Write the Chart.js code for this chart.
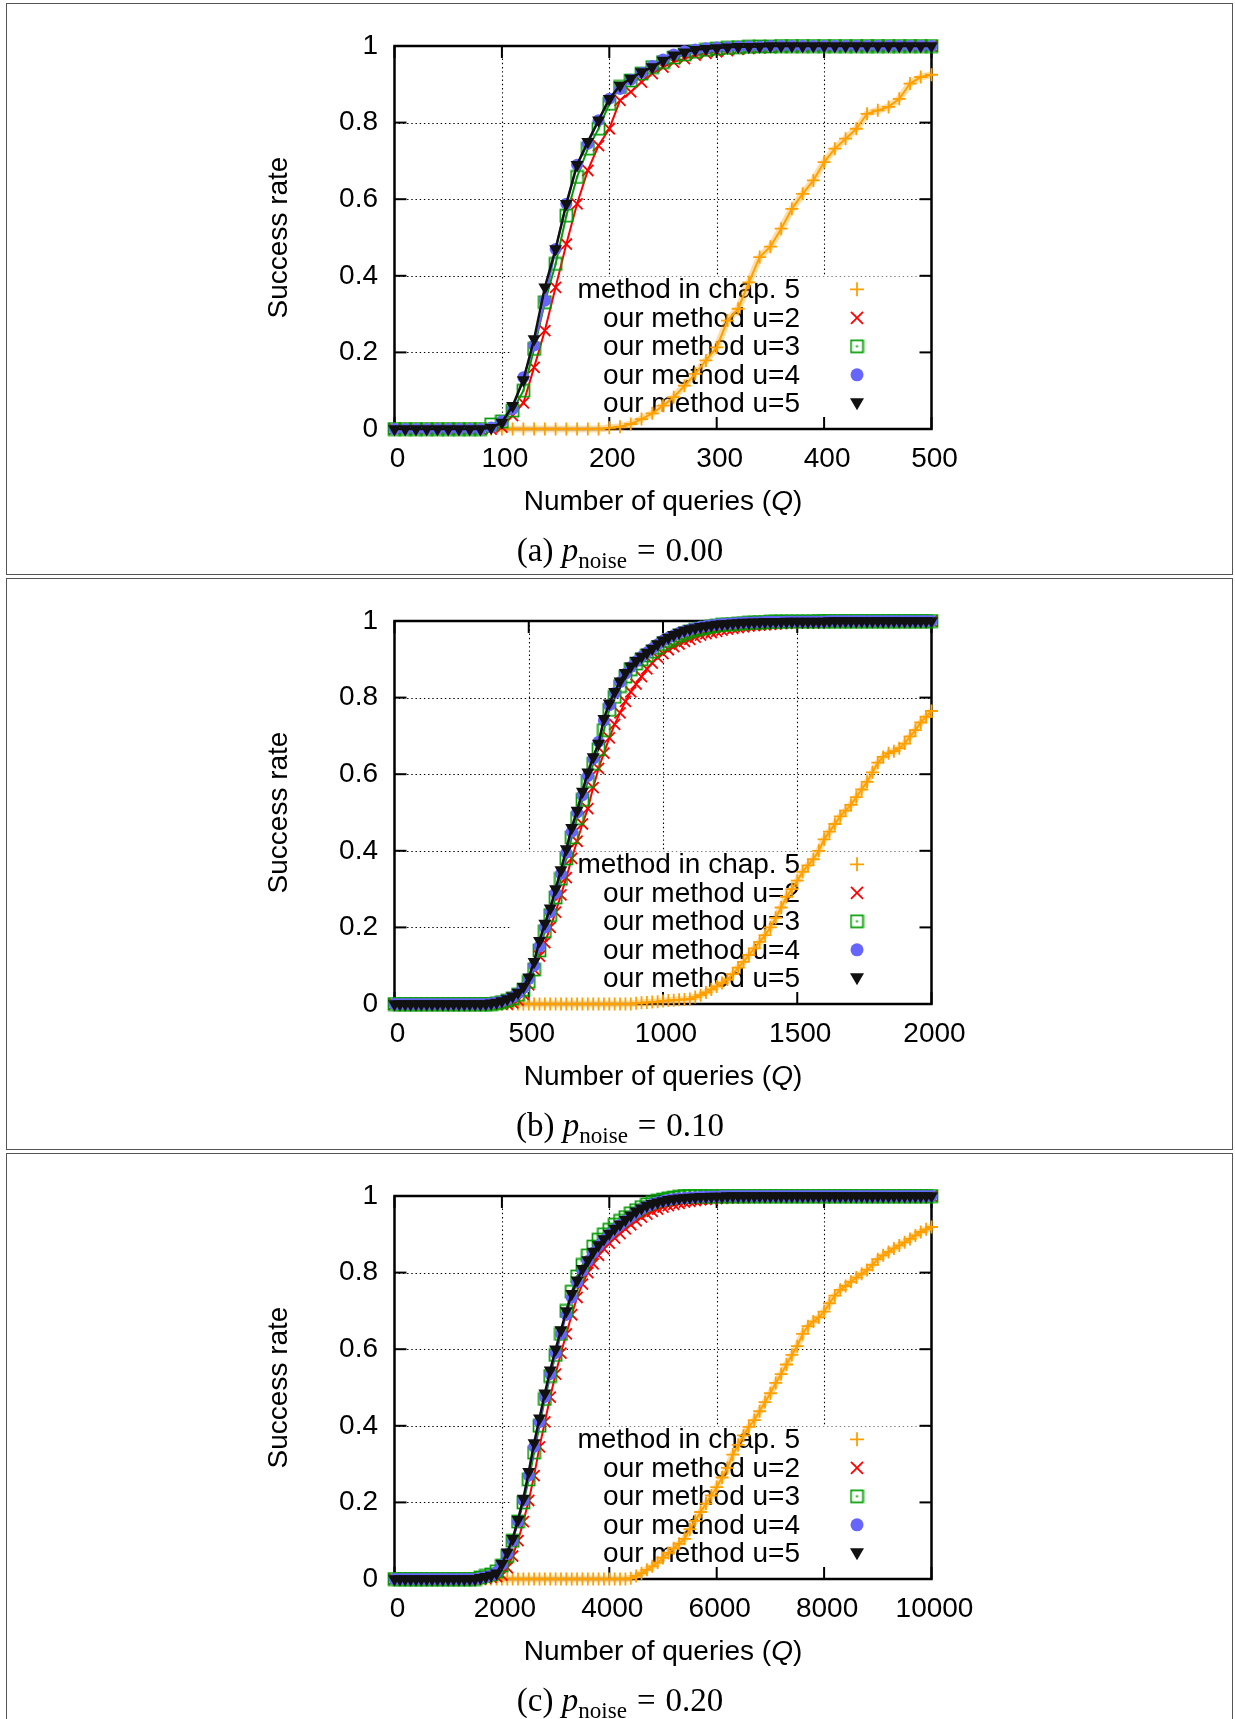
<!DOCTYPE html>
<html>
<head>
<meta charset="utf-8">
<script src="https://cdn.jsdelivr.net/npm/chart.js@4.4.1/dist/chart.umd.min.js"></script>
<style>
  body { margin: 0; background: #fff; width: 1235px; height: 1719px; overflow: hidden; position: relative; font-family: "Liberation Sans", Arial, sans-serif; }
  .panel { position: absolute; left: 0; width: 1235px; height: 575px; }
  .panel canvas { position: absolute; left: 0; top: 0; }
  .box { position: absolute; left: 6px; top: 3px; width: 1227px; height: 572px; border: 1.5px solid #555; box-sizing: border-box; }
  .xtitle { position: absolute; left: 394px; width: 538px; top: 485px; line-height: 32px; text-align: center; font-size: 28px; color: #000; }
  .cap { position: absolute; left: 0; width: 1240px; top: 530px; line-height: 40px; text-align: center; font-family: "Liberation Serif", "Times New Roman", serif; font-size: 33px; color: #000; }
  .cap sub { font-size: 70%; vertical-align: -0.32em; line-height: 0; }
  .cap .eq { margin: 0 0.3em; }
</style>
</head>
<body>
<div class="panel" style="top:0px">
  <div class="box"></div>
  <canvas id="chartA" width="1235" height="575"></canvas>
  <div class="xtitle">Number of queries (<i>Q</i>)</div>
  <div class="cap">(a) <i>p</i><sub>noise</sub><span class="eq">=</span>0.00</div>
</div>
<div class="panel" style="top:575.3px">
  <div class="box"></div>
  <canvas id="chartB" width="1235" height="575"></canvas>
  <div class="xtitle">Number of queries (<i>Q</i>)</div>
  <div class="cap">(b) <i>p</i><sub>noise</sub><span class="eq">=</span>0.10</div>
</div>
<div class="panel" style="top:1149.5px">
  <div class="box" style="height:600px"></div>
  <canvas id="chartC" width="1235" height="575"></canvas>
  <div class="xtitle">Number of queries (<i>Q</i>)</div>
  <div class="cap">(c) <i>p</i><sub>noise</sub><span class="eq">=</span>0.20</div>
</div>
<script>
// ---- data ----
const seriesNames = ['method in chap. 5', 'our method u=2', 'our method u=3', 'our method u=4', 'our method u=5'];
const yTicks = [0, 0.2, 0.4, 0.6, 0.8, 1];
const yTickLabels = ['0', '0.2', '0.4', '0.6', '0.8', '1'];
const xTicksA = [0, 100, 200, 300, 400, 500];
const xTicksB = [0, 500, 1000, 1500, 2000];
const xTicksC = [0, 2000, 4000, 6000, 8000, 10000];

// (a) p_noise = 0.00
const queriesA = [0,10,20,30,40,50,60,70,80,90,100,110,120,130,140,150,160,170,180,190,
  200,210,220,230,240,250,260,270,280,290,300,310,320,330,340,350,360,370,380,390,
  400,410,420,430,440,450,460,470,480,490,500];
const chap5A = [0,0,0,0,0,0,0,0,0,0,0,0,0,0,0,0,0,0,0,0,
  0.003,0.006,0.013,0.026,0.041,0.061,0.083,0.113,0.144,0.179,
  0.213,0.283,0.314,0.383,0.449,0.476,0.523,0.575,0.614,0.649,
  0.697,0.732,0.758,0.784,0.823,0.832,0.841,0.862,0.902,0.919,0.925];
const u2A = [0,0,0,0,0,0,0,0,0,0,
  0.005,0.035,0.068,0.161,0.257,0.37,0.483,0.588,0.675,0.74,
  0.784,0.858,0.88,0.906,0.928,0.945,0.958,0.967,0.976,0.981,
  0.985,0.988,0.991,0.993,0.995,0.996,0.997,0.998,0.998,0.999,
  0.999,0.999,1,1,1,1,1,1,1,1,1];
const u3A = [0,0,0,0,0,0,0,0,0,0.012,
  0.02,0.048,0.1,0.209,0.331,0.431,0.557,0.658,0.732,0.784,
  0.849,0.893,0.91,0.928,0.945,0.958,0.97,0.978,0.985,0.99,
  0.993,0.995,0.997,0.998,0.999,0.999,1,1,1,1,
  1,1,1,1,1,1,1,1,1,1,1];
const u4A = [0,0,0,0,0,0,0,0,0,0.004,
  0.02,0.052,0.135,0.218,0.335,0.47,0.588,0.69,0.745,0.806,
  0.862,0.888,0.912,0.93,0.948,0.965,0.978,0.986,0.991,0.994,
  0.996,0.997,0.998,0.999,0.999,1,1,1,1,1,
  1,1,1,1,1,1,1,1,1,1,1];
const u5A = [0,0,0,0,0,0,0,0,0,0.003,
  0.017,0.061,0.128,0.235,0.37,0.47,0.588,0.69,0.75,0.806,
  0.862,0.897,0.915,0.932,0.945,0.962,0.976,0.984,0.99,0.993,
  0.995,0.997,0.998,0.998,0.999,1,1,1,1,1,
  1,1,1,1,1,1,1,1,1,1,1];

// (b) p_noise = 0.10
const queriesB = [0,20,40,60,80,100,120,140,160,180,
  200,220,240,260,280,300,320,340,360,380,
  400,420,440,460,480,500,520,540,560,580,
  600,620,640,660,680,700,720,740,760,780,
  800,820,840,860,880,900,920,940,960,980,
  1000,1020,1040,1060,1080,1100,1120,1140,1160,1180,
  1200,1220,1240,1260,1280,1300,1320,1340,1360,1380,
  1400,1420,1440,1460,1480,1500,1520,1540,1560,1580,
  1600,1620,1640,1660,1680,1700,1720,1740,1760,1780,
  1800,1820,1840,1860,1880,1900,1920,1940,1960,1980,
  2000];
const chap5B = [0,0,0,0,0,0,0,0,0,0,
  0,0,0,0,0,0,0,0,0,0,
  0,0,0,0,0,0,0,0,0,0,
  0,0,0,0,0,0,0,0,0,0,
  0,0,0,0,0,0.002,0.003,0.004,0.005,0.006,
  0.008,0.009,0.01,0.011,0.012,0.013,0.018,0.023,0.03,0.038,
  0.046,0.055,0.064,0.078,0.095,0.11,0.128,0.145,0.162,0.18,
  0.2,0.225,0.252,0.28,0.3,0.322,0.345,0.362,0.378,0.4,
  0.43,0.45,0.47,0.49,0.505,0.52,0.54,0.56,0.58,0.605,
  0.63,0.645,0.655,0.66,0.668,0.68,0.699,0.715,0.735,0.75,
  0.765];
const u2B = [0,0,0,0,0,0,0,0,0,0,
  0,0,0,0,0,0,0,0,0,0,
  0,0,0.003,0.01,0.025,0.05,0.09,0.125,0.16,0.2,
  0.24,0.285,0.33,0.38,0.425,0.47,0.51,0.565,0.615,0.655,
  0.695,0.73,0.76,0.79,0.815,0.835,0.855,0.875,0.89,0.905,
  0.915,0.925,0.933,0.94,0.947,0.952,0.958,0.963,0.967,0.97,
  0.973,0.976,0.979,0.981,0.983,0.985,0.987,0.988,0.989,0.99,
  0.991,0.992,0.993,0.994,0.994,0.995,0.995,0.996,0.996,0.996,
  0.997,0.997,0.997,0.998,0.998,0.998,0.998,0.999,0.999,0.999,
  0.999,0.999,0.999,1,1,1,1,1,1,1,
  1];
const u3B = [0,0,0,0,0,0,0,0,0,0,
  0,0,0,0,0,0,0,0,0,0.002,
  0.005,0.009,0.015,0.024,0.037,0.058,0.09,0.14,0.19,0.232,
  0.278,0.327,0.38,0.435,0.485,0.533,0.582,0.627,0.665,0.715,
  0.768,0.802,0.83,0.855,0.874,0.889,0.9,0.91,0.92,0.93,
  0.94,0.948,0.955,0.962,0.968,0.973,0.977,0.98,0.983,0.986,
  0.988,0.99,0.991,0.992,0.993,0.994,0.995,0.996,0.997,0.997,
  0.998,0.998,0.998,0.999,0.999,0.999,0.999,0.999,0.999,1,
  1,1,1,1,1,1,1,1,1,1,
  1,1,1,1,1,1,1,1,1,1,
  1];
const u4B = [0,0,0,0,0,0,0,0,0,0,
  0,0,0,0,0,0,0,0,0.002,0.004,
  0.007,0.012,0.018,0.028,0.042,0.065,0.1,0.15,0.2,0.24,
  0.29,0.34,0.395,0.45,0.5,0.545,0.595,0.64,0.685,0.74,
  0.78,0.812,0.84,0.862,0.88,0.895,0.907,0.918,0.928,0.939,
  0.949,0.956,0.963,0.969,0.974,0.978,0.982,0.985,0.987,0.989,
  0.991,0.992,0.993,0.994,0.995,0.996,0.996,0.997,0.997,0.998,
  0.998,0.998,0.998,0.999,0.999,0.999,0.999,0.999,0.999,0.999,
  0.999,1,1,1,1,1,1,1,1,1,
  1,1,1,1,1,1,1,1,1,1,
  1];
const u5B = [0,0,0,0,0,0,0,0,0,0,
  0,0,0,0,0,0,0,0,0.002,0.004,
  0.008,0.013,0.02,0.03,0.045,0.07,0.11,0.165,0.21,0.25,
  0.3,0.35,0.405,0.46,0.505,0.555,0.605,0.645,0.68,0.745,
  0.785,0.815,0.843,0.865,0.882,0.896,0.907,0.918,0.928,0.94,
  0.95,0.957,0.964,0.97,0.975,0.979,0.982,0.985,0.987,0.989,
  0.991,0.992,0.993,0.994,0.995,0.996,0.996,0.997,0.997,0.998,
  0.998,0.998,0.998,0.999,0.999,0.999,0.999,0.999,0.999,0.999,
  0.999,1,1,1,1,1,1,1,1,1,
  1,1,1,1,1,1,1,1,1,1,
  1];

// (c) p_noise = 0.20
const queriesC = [0,100,200,300,400,500,600,700,800,900,
  1000,1100,1200,1300,1400,1500,1600,1700,1800,1900,
  2000,2100,2200,2300,2400,2500,2600,2700,2800,2900,
  3000,3100,3200,3300,3400,3500,3600,3700,3800,3900,
  4000,4100,4200,4300,4400,4500,4600,4700,4800,4900,
  5000,5100,5200,5300,5400,5500,5600,5700,5800,5900,
  6000,6100,6200,6300,6400,6500,6600,6700,6800,6900,
  7000,7100,7200,7300,7400,7500,7600,7700,7800,7900,
  8000,8100,8200,8300,8400,8500,8600,8700,8800,8900,
  9000,9100,9200,9300,9400,9500,9600,9700,9800,9900,
  10000];
const chap5C = [0,0,0,0,0,0,0,0,0,0,
  0,0,0,0,0,0,0,0,0,0,
  0,0,0,0,0,0,0,0,0,0,
  0,0,0,0,0,0,0,0,0,0,
  0,0,0,0,0.002,0.008,0.015,0.024,0.033,0.043,
  0.055,0.068,0.08,0.092,0.105,0.13,0.152,0.175,0.197,0.218,
  0.24,0.265,0.29,0.325,0.35,0.375,0.397,0.415,0.438,0.462,
  0.485,0.512,0.535,0.56,0.585,0.608,0.64,0.66,0.672,0.683,
  0.698,0.72,0.74,0.755,0.765,0.776,0.787,0.797,0.807,0.82,
  0.835,0.845,0.854,0.863,0.871,0.879,0.888,0.897,0.906,0.913,
  0.919];
const u2C = [0,0,0,0,0,0,0,0,0,0,
  0,0,0,0,0,0,0,0.002,0.004,0.006,
  0.01,0.03,0.06,0.1,0.15,0.205,0.27,0.345,0.41,0.475,
  0.535,0.59,0.64,0.69,0.735,0.77,0.8,0.823,0.845,0.862,
  0.877,0.89,0.902,0.914,0.925,0.935,0.945,0.953,0.96,0.966,
  0.971,0.975,0.978,0.981,0.984,0.986,0.988,0.99,0.991,0.992,
  0.993,0.994,0.995,0.995,0.996,0.996,0.997,0.997,0.997,0.998,
  0.998,0.998,0.998,0.999,0.999,0.999,0.999,0.999,0.999,0.999,
  1,1,1,1,1,1,1,1,1,1,
  1,1,1,1,1,1,1,1,1,1,
  1];
const u3C = [0,0,0,0,0,0,0,0,0,0,
  0,0,0,0,0,0,0.004,0.008,0.012,0.02,
  0.035,0.06,0.1,0.15,0.2,0.26,0.33,0.4,0.47,0.53,
  0.585,0.64,0.7,0.75,0.79,0.82,0.845,0.868,0.886,0.9,
  0.912,0.925,0.935,0.945,0.955,0.963,0.971,0.978,0.984,0.988,
  0.991,0.994,0.996,0.998,1,1,1,1,1,1,
  1,1,1,1,1,1,1,1,1,1,
  1,1,1,1,1,1,1,1,1,1,
  1,1,1,1,1,1,1,1,1,1,
  1,1,1,1,1,1,1,1,1,1,
  1];
const u4C = [0,0,0,0,0,0,0,0,0,0,
  0,0,0,0,0,0,0.003,0.006,0.01,0.018,
  0.038,0.065,0.1,0.15,0.205,0.27,0.345,0.41,0.475,0.535,
  0.59,0.64,0.69,0.735,0.775,0.805,0.83,0.852,0.87,0.886,
  0.9,0.913,0.924,0.936,0.946,0.957,0.966,0.973,0.979,0.984,
  0.987,0.99,0.992,0.994,0.995,0.996,0.997,0.998,0.998,0.999,
  0.999,1,1,1,1,1,1,1,1,1,
  1,1,1,1,1,1,1,1,1,1,
  1,1,1,1,1,1,1,1,1,1,
  1,1,1,1,1,1,1,1,1,1,
  1];
const u5C = [0,0,0,0,0,0,0,0,0,0,
  0,0,0,0,0,0,0.003,0.006,0.01,0.015,
  0.04,0.07,0.105,0.155,0.21,0.28,0.355,0.42,0.485,0.545,
  0.6,0.65,0.7,0.745,0.78,0.81,0.833,0.855,0.872,0.888,
  0.902,0.915,0.926,0.938,0.95,0.96,0.968,0.975,0.98,0.984,
  0.987,0.99,0.992,0.994,0.995,0.996,0.997,0.998,0.998,0.999,
  0.999,0.999,1,1,1,1,1,1,1,1,
  1,1,1,1,1,1,1,1,1,1,
  1,1,1,1,1,1,1,1,1,1,
  1,1,1,1,1,1,1,1,1,1,
  1];

// ---- styling ----
const ORANGE = '#ffa000', RED = '#ff0000', GREEN = '#009c00', BLUE = '#6666ff', BLACK = '#111111';
const FONT = '"Liberation Sans", Arial, sans-serif';

Chart.defaults.font.family = FONT;
Chart.defaults.font.size = 28;
Chart.defaults.color = '#000';
Chart.defaults.animation = false;

// open square with a dot in the middle (gnuplot style)
function squareDot(color) {
  const c = document.createElement('canvas');
  c.width = 15; c.height = 15;
  const g = c.getContext('2d');
  g.strokeStyle = color;
  g.lineWidth = 1.7;
  g.strokeRect(1.5, 1.5, 12, 12);
  g.fillStyle = color;
  g.fillRect(6.5, 6.5, 2, 2);
  return c;
}
const greenSquare = squareDot(GREEN);

function keySymbol(ctx, k, cx, cy) {
  ctx.save();
  ctx.lineWidth = 1.8;
  if (k === 0) {
    ctx.strokeStyle = ORANGE;
    ctx.beginPath(); ctx.moveTo(cx - 7, cy); ctx.lineTo(cx + 7, cy); ctx.moveTo(cx, cy - 7); ctx.lineTo(cx, cy + 7); ctx.stroke();
  } else if (k === 1) {
    ctx.strokeStyle = RED;
    ctx.beginPath(); ctx.moveTo(cx - 6, cy - 6); ctx.lineTo(cx + 6, cy + 6); ctx.moveTo(cx + 6, cy - 6); ctx.lineTo(cx - 6, cy + 6); ctx.stroke();
  } else if (k === 2) {
    ctx.drawImage(greenSquare, cx - 7.5, cy - 7.5);
  } else if (k === 3) {
    ctx.fillStyle = BLUE;
    ctx.beginPath(); ctx.arc(cx, cy, 6.5, 0, Math.PI * 2); ctx.fill();
  } else {
    ctx.fillStyle = BLACK;
    ctx.beginPath(); ctx.moveTo(cx - 7, cy - 5); ctx.lineTo(cx + 7, cy - 5); ctx.lineTo(cx, cy + 7); ctx.closePath(); ctx.fill();
  }
  ctx.restore();
}

// grid, key, tick marks and border, drawn under the curves
function decorPlugin(xTicks) {
  return {
    id: 'decor',
    beforeDatasetsDraw(chart) {
      const { ctx, chartArea: a, scales: { x, y } } = chart;
      const seg = (x1, y1, x2, y2) => { ctx.beginPath(); ctx.moveTo(x1, y1); ctx.lineTo(x2, y2); ctx.stroke(); };
      ctx.save();
      ctx.strokeStyle = '#000';
      ctx.lineWidth = 1.1;
      ctx.setLineDash([1.4, 2.8]);
      xTicks.slice(1, -1).forEach(v => { const px = Math.round(x.getPixelForValue(v)) + 0.5; seg(px, a.top, px, a.bottom); });
      yTicks.slice(1, -1).forEach(v => { const py = Math.round(y.getPixelForValue(v)) + 0.5; seg(a.left, py, a.right, py); });
      ctx.setLineDash([]);

      // opaque key box
      const kx = a.left + 117.5, ky = a.top + 230.5;
      ctx.fillStyle = '#fff';
      ctx.fillRect(kx, ky, a.right - kx, a.bottom - ky);
      ctx.fillStyle = '#000';
      ctx.font = '28px ' + FONT;
      ctx.textAlign = 'right';
      ctx.textBaseline = 'middle';
      seriesNames.forEach((name, i) => {
        const ry = a.top + 243.3 + i * 28.5;
        ctx.fillText(name, a.left + 405.5, ry + 1);
        keySymbol(ctx, i, a.left + 462.5, ry);
      });

      // tick marks on all four sides
      ctx.strokeStyle = '#000';
      ctx.lineWidth = 2;
      xTicks.forEach(v => { const px = x.getPixelForValue(v); seg(px, a.bottom, px, a.bottom - 12); seg(px, a.top, px, a.top + 12); });
      yTicks.forEach(v => { const py = y.getPixelForValue(v); seg(a.left, py, a.left + 12, py); seg(a.right, py, a.right - 12, py); });
      ctx.lineWidth = 2.5;
      ctx.strokeRect(a.left, a.top, a.right - a.left, a.bottom - a.top);
      ctx.restore();
    }
  };
}

function makeChart(canvasId, queries, xMax, xTicks, chap5, u2, u3, u4, u5) {
  const pts = vals => queries.map((q, i) => ({ x: q, y: vals[i] }));
  const base = { showLine: true, tension: 0, fill: false, clip: false, pointHoverRadius: 0 };
  new Chart(document.getElementById(canvasId), {
    type: 'scatter',
    data: {
      datasets: [
        { ...base, label: seriesNames[4], data: pts(u5), order: 0, borderColor: BLACK, borderWidth: 2.5,
          pointStyle: 'triangle', pointRotation: 180, pointRadius: 7.5, pointBackgroundColor: BLACK, pointBorderWidth: 0 },
        { ...base, label: seriesNames[3], data: pts(u4), order: 1, borderColor: BLUE, borderWidth: 2,
          pointStyle: 'circle', pointRadius: 6, pointBackgroundColor: BLUE, pointBorderWidth: 0 },
        { ...base, label: seriesNames[2], data: pts(u3), order: 2, borderColor: GREEN, borderWidth: 2,
          pointStyle: greenSquare, pointRadius: 7 },
        { ...base, label: seriesNames[1], data: pts(u2), order: 3, borderColor: RED, borderWidth: 2,
          pointStyle: 'crossRot', pointRadius: 7.8, pointBorderColor: RED, pointBorderWidth: 1.8 },
        { ...base, label: seriesNames[0], data: pts(chap5), order: 4, borderColor: ORANGE, borderWidth: 2,
          pointStyle: 'cross', pointRadius: 6.5, pointBorderColor: ORANGE, pointBorderWidth: 1.8 },
        { ...base, label: 'halo', data: pts(chap5), order: 5, borderColor: 'rgba(255,160,0,0.35)', borderWidth: 7, pointRadius: 0 }
      ]
    },
    options: {
      responsive: false,
      maintainAspectRatio: false,
      devicePixelRatio: 1,
      events: [],
      layout: { padding: { left: 262.5, right: 303.5, top: 46, bottom: 58 } },
      plugins: { legend: { display: false }, tooltip: { enabled: false } },
      scales: {
        x: {
          type: 'linear', min: 0, max: xMax,
          afterBuildTicks: s => { s.ticks = xTicks.map(v => ({ value: v })); },
          afterFit: s => { s.height = 88; },
          grid: { display: false, drawTicks: false },
          border: { display: false },
          ticks: { padding: 13, labelOffset: 3, autoSkip: false, maxRotation: 0, minRotation: 0, color: '#000',
                   callback: v => String(v) }
        },
        y: {
          type: 'linear', min: 0, max: 1,
          afterBuildTicks: s => { s.ticks = yTicks.map(v => ({ value: v })); },
          afterFit: s => { s.width = 132; },
          grid: { display: false, drawTicks: false },
          border: { display: false },
          ticks: { padding: 16.5, autoSkip: false, color: '#000', callback: (v, i) => yTickLabels[i] },
          title: { display: true, text: 'Success rate', color: '#000', padding: 0, font: { size: 28 } }
        }
      }
    },
    plugins: [decorPlugin(xTicks)]
  });
}

makeChart('chartA', queriesA, 500, xTicksA, chap5A, u2A, u3A, u4A, u5A);
makeChart('chartB', queriesB, 2000, xTicksB, chap5B, u2B, u3B, u4B, u5B);
makeChart('chartC', queriesC, 10000, xTicksC, chap5C, u2C, u3C, u4C, u5C);
</script>
</body>
</html>
